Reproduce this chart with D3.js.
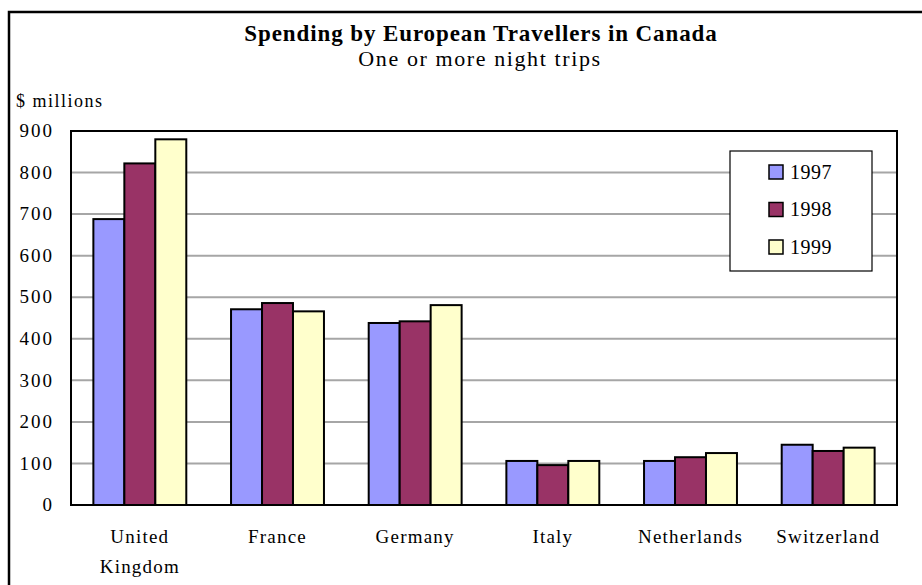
<!DOCTYPE html>
<html>
<head>
<meta charset="utf-8">
<script src="https://cdn.jsdelivr.net/npm/d3@7"></script>
<style>
  body { margin: 0; background: #fff; }
  svg text { font-family: "Liberation Serif", "Times New Roman", Times, Tinos, "Noto Serif", "DejaVu Serif", serif; fill: #000; }
</style>
</head>
<body>
<div id="chart"></div>
<script>
const categories = ['United Kingdom', 'France', 'Germany', 'Italy', 'Netherlands', 'Switzerland'];
const categoryLines = [['United', 'Kingdom'], ['France'], ['Germany'], ['Italy'], ['Netherlands'], ['Switzerland']];
const years = ['1997', '1998', '1999'];
const values1997 = [688, 471, 438, 106, 106, 145];
const values1998 = [822, 486, 442, 96, 115, 130];
const values1999 = [880, 466, 481, 106, 125, 138];
const yTicks = [0, 100, 200, 300, 400, 500, 600, 700, 800, 900];
const colors = ['#9999FF', '#993366', '#FFFFCC'];

const seriesValues = [values1997, values1998, values1999];
const width = 922, height = 585;
const plot = { left: 71, right: 897, top: 131, bottom: 505 };

const svg = d3.select('#chart')
    .append('svg')
    .attr('width', width)
    .attr('height', height);

// outer frame
svg.append('path')
    .attr('d', `M9,${height + 5} L9,12 L${width + 5},12`)
    .attr('fill', 'none')
    .attr('stroke', '#000')
    .attr('stroke-width', 2.5);

svg.append('text')
    .attr('x', 481).attr('y', 41)
    .attr('text-anchor', 'middle')
    .attr('font-size', '23px')
    .attr('font-weight', 'bold')
    .attr('letter-spacing', '0.9px')
    .text('Spending by European Travellers in Canada');

svg.append('text')
    .attr('x', 480).attr('y', 66)
    .attr('text-anchor', 'middle')
    .attr('font-size', '22px')
    .attr('letter-spacing', '1.6px')
    .text('One or more night trips');

svg.append('text')
    .attr('x', 16).attr('y', 107)
    .attr('font-size', '18px')
    .attr('letter-spacing', '1.5px')
    .text('$ millions');

const x = d3.scaleBand()
    .domain(categories)
    .range([plot.left, plot.right])
    .paddingInner(0.325)
    .paddingOuter(0.1625);

const xInner = d3.scaleBand()
    .domain(years)
    .range([0, x.bandwidth()]);

const y = d3.scaleLinear()
    .domain([0, 900])
    .range([plot.bottom, plot.top]);

// gridlines
svg.append('g')
    .selectAll('line')
    .data(yTicks.filter(t => t > 0 && t < 900))
    .join('line')
    .attr('x1', plot.left).attr('x2', plot.right)
    .attr('y1', d => y(d)).attr('y2', d => y(d))
    .attr('stroke', '#a6a6a6')
    .attr('stroke-width', 2);

// plot frame
svg.append('rect')
    .attr('x', plot.left).attr('y', plot.top)
    .attr('width', plot.right - plot.left)
    .attr('height', plot.bottom - plot.top)
    .attr('fill', 'none')
    .attr('stroke', '#000')
    .attr('stroke-width', 2);

// y tick labels
svg.append('g')
    .selectAll('text')
    .data(yTicks)
    .join('text')
    .attr('x', 54)
    .attr('y', d => y(d))
    .attr('dy', '0.33em')
    .attr('text-anchor', 'end')
    .attr('font-size', '19px')
    .attr('letter-spacing', '2px')
    .text(d => d);

// bars
const groups = svg.append('g')
    .selectAll('g')
    .data(categories)
    .join('g')
    .attr('transform', d => `translate(${x(d)},0)`);

groups.selectAll('rect')
    .data((d, i) => years.map((yr, j) => ({ yr, j, v: seriesValues[j][i] })))
    .join('rect')
    .attr('x', d => xInner(d.yr))
    .attr('y', d => y(d.v))
    .attr('width', xInner.bandwidth())
    .attr('height', d => y(0) - y(d.v))
    .attr('fill', d => colors[d.j])
    .attr('stroke', '#000')
    .attr('stroke-width', 2);

// category labels
const labels = svg.append('g')
    .selectAll('text')
    .data(categories)
    .join('text')
    .attr('x', d => x(d) + x.bandwidth() / 2)
    .attr('y', 543)
    .attr('text-anchor', 'middle')
    .attr('font-size', '19px')
    .attr('letter-spacing', '1.2px');

labels.selectAll('tspan')
    .data((d, i) => categoryLines[i])
    .join('tspan')
    .attr('x', function () { return d3.select(this.parentNode).attr('x'); })
    .attr('dy', (d, i) => i === 0 ? 0 : 30)
    .text(d => d);

// legend
const legend = svg.append('g');
legend.append('rect')
    .attr('x', 730).attr('y', 151)
    .attr('width', 142).attr('height', 120)
    .attr('fill', '#fff')
    .attr('stroke', '#000')
    .attr('stroke-width', 1.2);

const legendItems = legend.selectAll('g')
    .data(years)
    .join('g')
    .attr('transform', (d, i) => `translate(769,${172 + i * 37.5})`);

legendItems.append('rect')
    .attr('x', 0).attr('y', -7)
    .attr('width', 14).attr('height', 14)
    .attr('fill', (d, i) => colors[i])
    .attr('stroke', '#000')
    .attr('stroke-width', 1.5);

legendItems.append('text')
    .attr('x', 21).attr('y', 0)
    .attr('dy', '0.33em')
    .attr('font-size', '20px')
    .attr('letter-spacing', '0.5px')
    .text(d => d);
</script>
</body>
</html>
